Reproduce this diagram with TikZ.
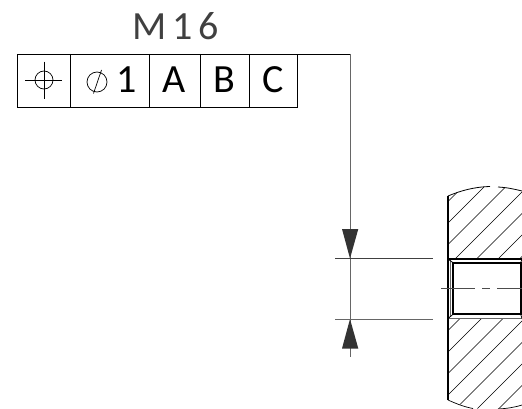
\documentclass[tikz,border=0pt]{standalone}
\usepackage{fontspec}
\setmainfont{Carlito}
\tikzset{
 thinl/.style={line width=0.75pt,draw=black!75},
 frame/.style={line width=0.75pt,draw=black},
 wall/.style={line width=2pt,draw=black,line cap=butt},
 hatch/.style={line width=0.6pt,draw=black},
 glyph/.style={font=\fontsize{40}{40}\selectfont,inner sep=0,anchor=base},
 tip/.style={fill=black!80,draw=none}
}
\begin{document}
\begin{tikzpicture}[x=1pt,y=-1pt]
\useasboundingbox (0,0) rectangle (522,409);
% frame
\draw[frame] (17.5,54) rectangle (297.5,107);
\foreach \x in {70.3,149.3,200.3,249.3} \draw[frame] (\x,54) -- (\x,107);
\coordinate (lead0) at (297.5,54);
\coordinate (lead1) at (350,54);
\coordinate (ext) at (350,357);
\draw[thinl,draw=black!60] (lead1) -- (ext);
\draw[frame] (lead0) -- (lead1);
% symbols
\draw[line width=.7pt] (44,80) circle (9);
\draw[line width=.7pt] (25,80) -- (62.3,80) (44,61.7) -- (44,99);
\draw[line width=.7pt] (97,82) circle (10);
\draw[line width=.7pt] (101.5,70) -- (93.5,93.5);
\node[glyph] (one) at (127,93) {1};
\node[glyph] (a) at (174.5,93) {A};
\node[glyph] (b) at (224,93) {B};
\node[glyph] (c) at (273,93) {C};
\node[font=\fontsize{40}{40}\selectfont,text=black!75,inner sep=0,anchor=base] (m) at (175.5,39.5) {M\kern6pt 1\kern6pt 6};
% arrows
\fill[tip] (342,229) -- (358.3,229) -- (350,258.5) -- cycle;
\fill[tip] (342,348.5) -- (358.3,348.5) -- (350,319) -- cycle;
\draw[thinl] (335,258.5) -- (433,258.5);
\draw[thinl,draw=black!60] (335,319) -- (433,319);
% part
\begin{scope}
\clip (448,196) .. controls (460,191) and (473,187) .. (490,186.5) .. controls (500,186.5) and (512,188) .. (522,191) -- (522,405) .. controls (513,408) and (505,409) .. (490,409.5) .. controls (475,409.5) and (460,405) .. (448,400) -- cycle;
\foreach \k in {-1,...,20} {
 \pgfmathsetmacro{\yy}{223+21.5*\k}
 \draw[hatch] (448,\yy) -- ++(260,-260);
}
\end{scope}
\fill[white] (449,259) rectangle (522,318);
\draw[wall] (448,196) -- (448,400);
\draw[line width=.8pt] (448,196) .. controls (460,191) and (473,187) .. (490,186.5);
\draw[line width=.8pt] (498,187) .. controls (507,187.5) and (514,189) .. (522,191);
\draw[line width=.7pt] (448,400) .. controls (458,404.5) and (465,407) .. (473,408.5);
\draw[line width=.7pt] (498,409) .. controls (507,408.5) and (514,407.5) .. (522,405);
\draw[line width=1.2pt] (449,259) -- (522,259);
\draw[line width=1.2pt,draw=black!60] (449,318.5) -- (522,318.5);
\draw[line width=.8pt,draw=black!60] (450.6,260) -- (450.6,317);
\draw[line width=2pt] (453,262.7) rectangle (520.7,314.3);
\draw[line width=.8pt] (448,259) -- (453,262.7) (448,318.5) -- (453,314.3) (522,259) -- (520.7,262.7) (522,318.5) -- (520.7,314.3);
\draw[line width=.8pt,draw=black!70] (441,288.5) -- (475,288.5) (482,288.5) -- (490,288.5) (497,288.5) -- (522,288.5);
\end{tikzpicture}
\end{document}
